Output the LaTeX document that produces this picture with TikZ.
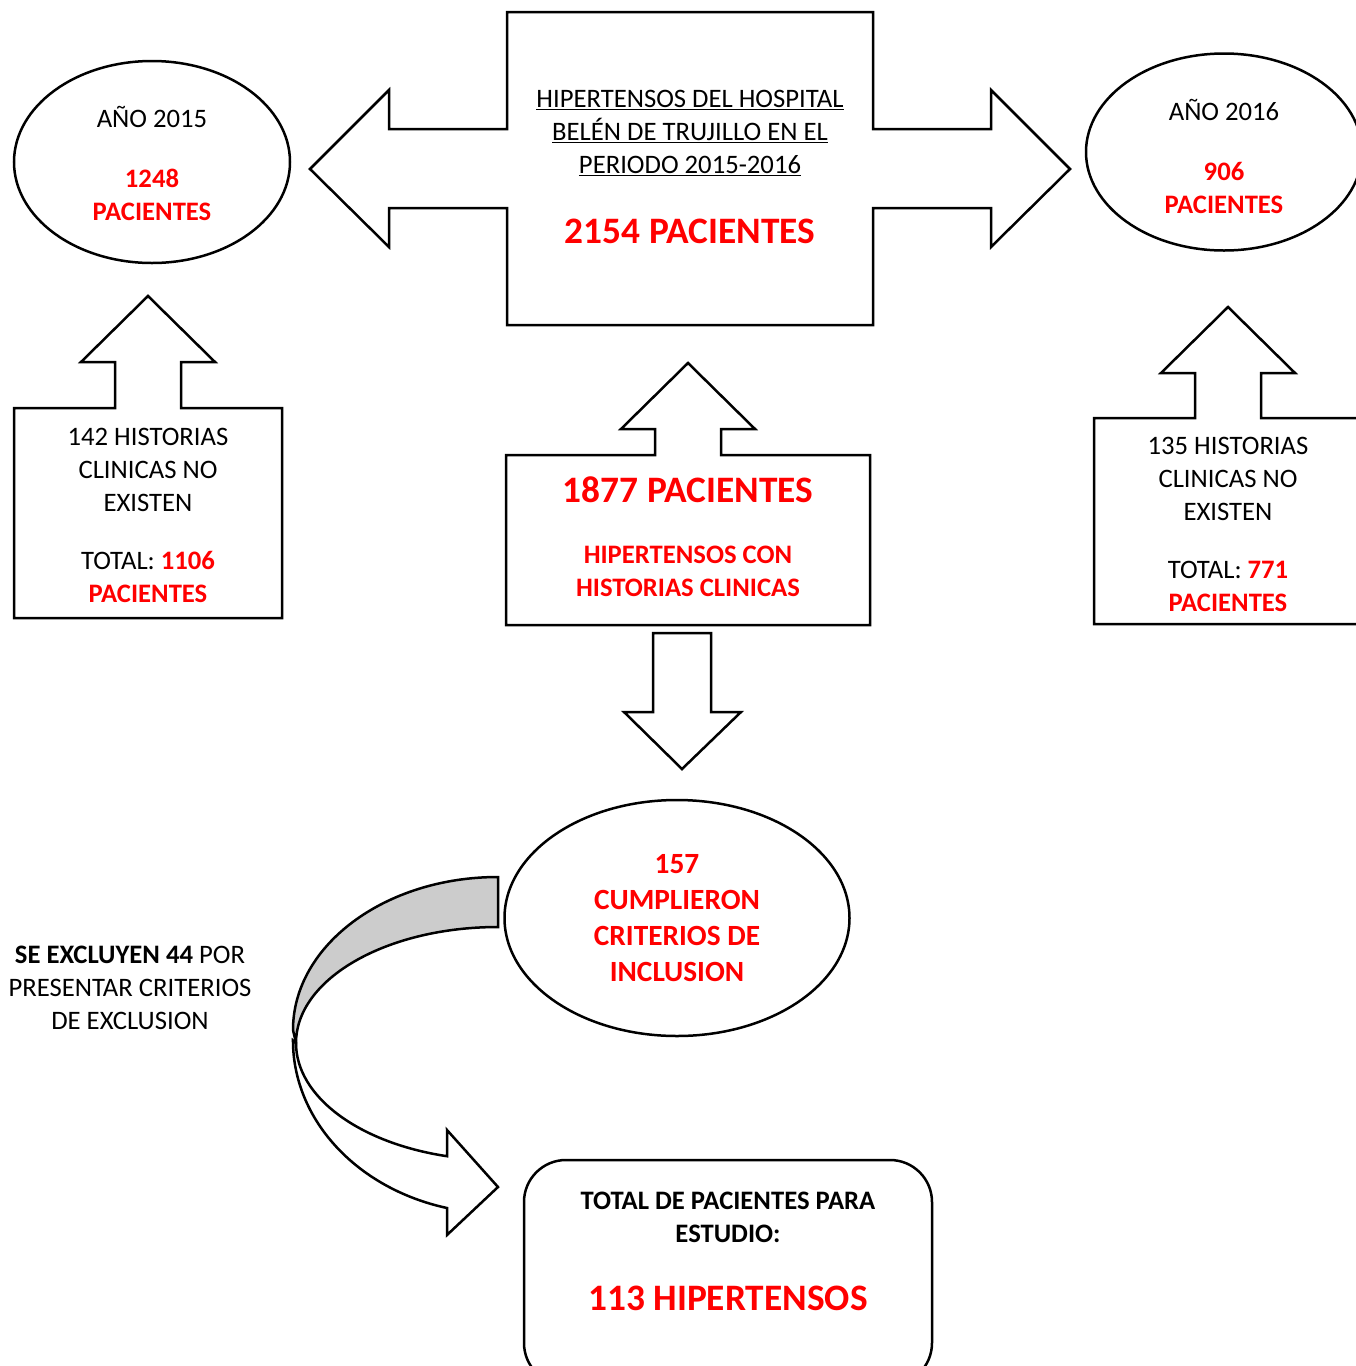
\documentclass[tikz,border=0pt]{standalone}
\usepackage{fontspec}
\setmainfont{Carlito}
\usetikzlibrary{shapes.geometric}
\tikzstyle{blk}=[draw,line width=2.5pt]
\tikzstyle{lbl}=[align=center,inner sep=0pt,font=\fontsize{26.67}{33}\selectfont]
\tikzstyle{lblb}=[lbl,font=\fontsize{26.67}{33}\selectfont\bfseries]
\tikzstyle{big}=[inner sep=0pt,text=red,font=\fontsize{37.33}{45}\selectfont\bfseries]
\tikzstyle{oval}=[blk,ellipse,lbl]
\newcommand{\rb}[1]{\textcolor{red}{\bfseries #1}}

\begin{document}
\begin{tikzpicture}[x=1pt,y=-1pt]
\useasboundingbox (0,0) rectangle (1356,1366);
% hospital, arrows to both years
\draw[blk] (507,12) -- (873,12) -- (873,129) -- (991,129) -- (991,90) -- (1070,169) -- (991,247) -- (991,208) -- (873,208) -- (873,325)
    -- (507,325) -- (507,208) -- (389,208) -- (389,247) -- (310,169) -- (389,90) -- (389,129) -- (507,129) -- cycle;
\node[lbl] (titulo) at (690,133) {\underline{HIPERTENSOS DEL HOSPITAL}\\ \underline{BELÉN DE TRUJILLO EN EL}\\ \underline{PERIODO 2015-2016}};
\node[big] (n2154) at (690,231) {2154 PACIENTES};
% years
\node[oval,minimum width=276,minimum height=202] (a2015) at (152,162) {};
\node[lbl] (t2015) at (152,163) {AÑO 2015\\[27pt]\rb{1248}\\ \rb{PACIENTES}};
\node[oval,minimum width=276,minimum height=197] (a2016) at (1224,152) {};
\node[lbl] (t2016) at (1224,156) {AÑO 2016\\[27pt]\rb{906}\\ \rb{PACIENTES}};
% boxes with up arrows
\foreach \cx/\ty/\bt/\bb/\bw in {148/296/408/618/134, 1228/307/418/624/134, 688/363/455/625/182}
    \draw[blk] (\cx-\bw,\bt) -- (\cx-33,\bt) -- (\cx-33,\ty+66) -- (\cx-67,\ty+66) -- (\cx,\ty) -- (\cx+67,\ty+66) -- (\cx+33,\ty+66)
        -- (\cx+33,\bt) -- (\cx+\bw,\bt) -- (\cx+\bw,\bb) -- (\cx-\bw,\bb) -- cycle;
\node[lbl] (h142) at (148,515) {142 HISTORIAS\\CLINICAS NO\\EXISTEN\\[25pt]TOTAL: \rb{1106}\\ \rb{PACIENTES}};
\node[lbl] (h135) at (1228,524) {135 HISTORIAS\\CLINICAS NO\\EXISTEN\\[25pt]TOTAL: \rb{771}\\ \rb{PACIENTES}};
\node[big] (n1877) at (688,490) {1877 PACIENTES};
\node[lblb,text=red] (conhc) at (688,571) {HIPERTENSOS CON\\HISTORIAS CLINICAS};
% down arrow
\draw[blk] (653,633) -- (711,633) -- (711,712) -- (741,712) -- (682,769) -- (624,712) -- (653,712) -- cycle;
\node[oval,minimum width=345,minimum height=236,font=\fontsize{29.33}{36}\selectfont\bfseries,text=red] (incl) at (677,918)
    {157\\CUMPLIERON\\CRITERIOS DE\\INCLUSION};
% curved arrow
\draw[blk,fill=black!20] (498,877) arc[start angle=270,end angle=180,x radius=205,y radius=153] -- (296,1043)
    arc[start angle=180,end angle=270,x radius=202,y radius=116] -- cycle;
\draw[blk,fill=white] (296,1043) arc[start angle=180,end angle=104.6,x radius=202,y radius=117] -- (447,1130) -- (498,1187)
    -- (447,1235) -- (447,1208) arc[start angle=104.4,end angle=180,x radius=205,y radius=173] -- cycle;
\node[lbl] (excl) at (130,988) {\textbf{SE EXCLUYEN 44} POR\\PRESENTAR CRITERIOS\\DE EXCLUSION};
% total
\draw[blk,rounded corners=42] (524,1160) rectangle (932,1385);
\node[lblb] (estudio) at (728,1217) {TOTAL DE PACIENTES PARA\\ESTUDIO:};
\node[big] (n113) at (728,1298) {113 HIPERTENSOS};
\end{tikzpicture}
\end{document}
